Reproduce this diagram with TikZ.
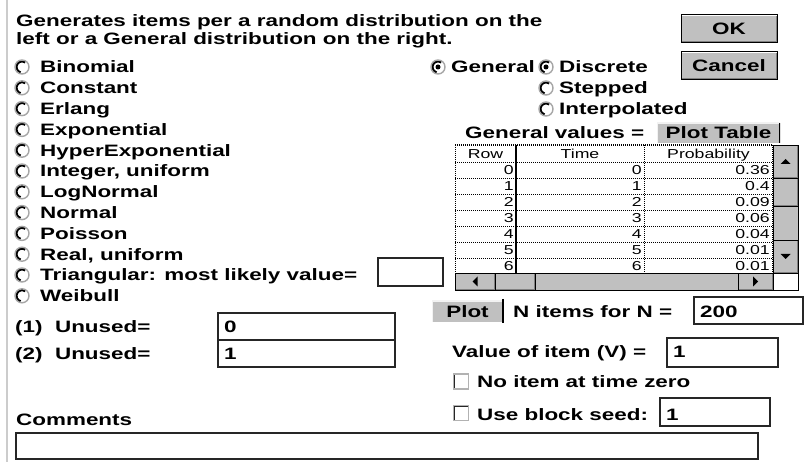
\documentclass[tikz,border=0pt]{standalone}
\usepackage{fontspec}
\setmainfont{Liberation Sans}[FakeStretch=1.36]
\definecolor{btngray}{HTML}{C0C0C0}
\definecolor{shadegray}{HTML}{808080}

\begin{document}
\begin{tikzpicture}[x=1pt, y=-1pt,
    lbl/.style={anchor=base west, inner sep=0pt, font=\fontsize{16.5}{19}\selectfont\bfseries},
    cell/.style={anchor=base east, inner sep=0pt, font=\fontsize{13}{15}\selectfont},
    head/.style={anchor=base, inner sep=0pt, font=\fontsize{13}{15}\selectfont},
    radio/.style={circle, draw=gray!70, line width=1.4pt, minimum size=14pt, inner sep=0pt, fill=white,
        path picture={\draw[line width=2.6pt, black] (path picture bounding box.center) ++(55:5.8pt) arc[start angle=55, end angle=255, radius=5.8pt];}},
    radioon/.style={radio,
        path picture={\draw[line width=2.6pt, black] (path picture bounding box.center) ++(55:5.8pt) arc[start angle=55, end angle=255, radius=5.8pt];
            \fill[black] (path picture bounding box.center) circle[radius=2.5pt];}},
    chk/.style={rectangle, draw=gray!60, line width=1.2pt, minimum size=15pt, inner sep=0pt, fill=white,
        path picture={\draw[line width=2.4pt, black!85] (path picture bounding box.south west) -- (path picture bounding box.north west) -- (path picture bounding box.north east);}},
    btn/.style={draw=black, line width=1pt, fill=btngray, inner sep=0pt, font=\fontsize{16.5}{19}\selectfont\bfseries,
        path picture={\draw[line width=3pt, shadegray] (path picture bounding box.south west) -- (path picture bounding box.south east) -- (path picture bounding box.north east);
            \draw[line width=2pt, white] (path picture bounding box.south west) -- (path picture bounding box.north west) -- (path picture bounding box.north east);}},
    flatbtn/.style={fill=btngray, inner sep=0pt, font=\fontsize{16.5}{19}\selectfont\bfseries,
        path picture={\draw[line width=2pt, white!90!gray] (path picture bounding box.south west) -- (path picture bounding box.north west) -- (path picture bounding box.north east);
            \draw[line width=2pt, black] (path picture bounding box.south east) -- (path picture bounding box.north east);}},
    sbtn/.style={draw=black, line width=0.8pt, fill=btngray, inner sep=0pt,
        path picture={\draw[line width=2pt, shadegray] (path picture bounding box.south west) -- (path picture bounding box.south east) -- (path picture bounding box.north east);}},
    field/.style={draw=black!85, line width=1.3pt, fill=white},
    dotrule/.style={dash pattern=on 1pt off 1pt, line width=0.8pt}]

    \useasboundingbox (0,0) rectangle (807,462);
    \fill[white] (0,0) rectangle (807,462);
    \draw[gray!40, line width=2pt] (7,0) -- (7,462);

    % heading
    \node[lbl] (intro1) at (16,27) {Generates items per a random distribution on the};
    \node[lbl] (intro2) at (16,45) {left or a General distribution on the right.};

    % random distributions
    \foreach \dist [count=\i from 0] in {Binomial, Constant, Erlang, Exponential, HyperExponential, {Integer, uniform}, LogNormal, Normal, Poisson, {Real, uniform}, {Triangular: most likely value=}, Weibull} {
        \node[radio] (rd\i) at (22,{67+20.8*\i}) {};
        \node[lbl] (dist\i) at (40,{73+20.8*\i}) {\dist};
    }
    \draw[field] (378,258) rectangle (443,286);

    % general distribution
    \node[radioon] (rgen) at (438,67) {};
    \node[lbl] (gen) at (451,73) {General};
    \node[radioon] (rdisc) at (546,67) {};
    \node[lbl] (disc) at (559,73) {Discrete};
    \node[radio] (rstepped) at (546,88) {};
    \node[lbl] (stepped) at (559,94) {Stepped};
    \node[radio] (rinterp) at (546,109) {};
    \node[lbl] (interp) at (559,115) {Interpolated};

    % buttons
    \node[btn, minimum width=96pt, minimum height=28pt] (ok) at (729,29) {OK};
    \node[btn, minimum width=96pt, minimum height=28pt] (cancel) at (729,66) {Cancel};
    \node[lbl] (genvals) at (465,139) {General values =};
    \node[flatbtn, minimum width=123pt, minimum height=20pt] (plottable) at (718.5,133) {Plot Table};

    % table
    \fill[white] (455,145) rectangle (773,273);
    \foreach \k in {0,...,7}
        \draw[dotrule] (455,{162+16*\k}) -- (773,{162+16*\k});
    \draw[dotrule, line width=1.2pt] (455,145) -- (773,145);
    \draw[dotrule, line width=1.6pt] (455.5,145) -- (455.5,273);
    \draw[line width=1.6pt] (516,145) -- (516,273);
    \draw[dotrule] (644,145) -- (644,273);
    \draw[dotrule] (772.5,145) -- (772.5,273);
    \node[head] (hrow) at (485.5,159) {Row};
    \node[head] (htime) at (580,159) {Time};
    \node[head] (hprob) at (708.5,159) {Probability};
    \foreach \p [count=\i from 0] in {0.36,0.4,0.09,0.06,0.04,0.01,0.01} {
        \node[cell] (row\i) at (514,{174.5+16*\i}) {\i};
        \node[cell] (time\i) at (642,{174.5+16*\i}) {\i};
        \node[cell] (prob\i) at (770,{174.5+16*\i}) {\p};
    }

    % scroll bars
    \draw[fill=btngray, line width=0.8pt] (773,145) rectangle (798,273);
    \node[sbtn, minimum width=25pt, minimum height=33pt] (sbup) at (785.5,161.5) {};
    \node[sbtn, minimum width=25pt, minimum height=28pt] (sbthumb) at (785.5,192) {};
    \node[sbtn, minimum width=25pt, minimum height=33pt] (sbdown) at (785.5,256.5) {};
    \fill (780.5,164) -- (790.5,164) -- (785.5,159) -- cycle;
    \fill (780.5,254) -- (790.5,254) -- (785.5,259) -- cycle;
    \draw[fill=btngray, line width=0.8pt] (455,273) rectangle (773,290);
    \node[sbtn, minimum width=40pt, minimum height=17pt] (sbleft) at (475,281.5) {};
    \node[sbtn, minimum width=40pt, minimum height=17pt] (sbhthumb) at (515,281.5) {};
    \node[sbtn, minimum width=35pt, minimum height=17pt] (sbright) at (755.5,281.5) {};
    \fill (472.5,281.5) -- (477.5,276.5) -- (477.5,286.5) -- cycle;
    \fill (758,281.5) -- (753,276.5) -- (753,286.5) -- cycle;
    \draw[fill=white, line width=0.8pt] (773,273) rectangle (798,290);

    % plotting
    \node[flatbtn, minimum width=71pt, minimum height=21pt] (plot) at (467.5,311.5) {Plot};
    \draw[line width=1.5pt] (503,299) -- (503,323);
    \node[lbl] (nitems) at (513,318) {N items for N =};
    \draw[field] (694,297) rectangle (803,324);
    \node[lbl] (nval) at (700,318) {200};

    \node[lbl] (valitem) at (452,358) {Value of item (V) =};
    \draw[field] (667,338) rectangle (778,367);
    \node[lbl] (vval) at (673,358) {1};

    \node[chk] (chkzero) at (461,381.5) {};
    \node[lbl] (nozero) at (477,388) {No item at time zero};
    \node[chk] (chkseed) at (461,413) {};
    \node[lbl] (useseed) at (477,421) {Use block seed:};
    \draw[field] (660,398) rectangle (770,426);
    \node[lbl] (seedval) at (666,421) {1};

    % parameters
    \node[lbl] (unusedA) at (15,333) {(1)\ \ Unused=};
    \node[lbl] (unusedB) at (15,360) {(2)\ \ Unused=};
    \draw[field] (218,313) rectangle (395,340);
    \draw[field] (218,340) rectangle (395,367);
    \node[lbl] (valA) at (224,333) {0};
    \node[lbl] (valB) at (224,360) {1};

    % comments
    \node[lbl] (comments) at (16,426) {Comments};
    \draw[field] (16,433) rectangle (758,459);
\end{tikzpicture}
\end{document}
